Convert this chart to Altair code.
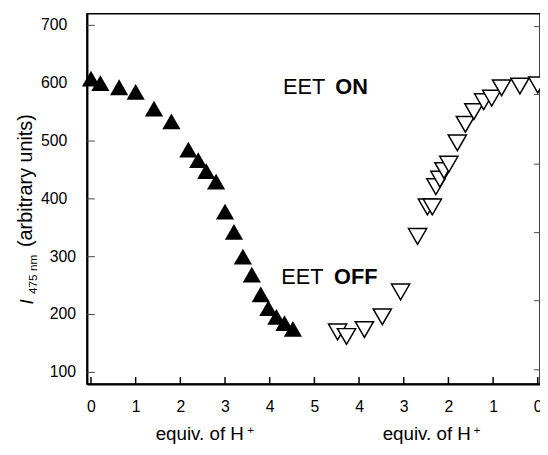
import altair as alt
import pandas as pd

# ---- data ----
# left branch: adding H+ (0 -> ~4.5 equiv), filled up-triangles
left_equiv = [0.0, 0.21, 0.63, 1.0, 1.41, 1.8, 2.18, 2.4, 2.58, 2.8, 3.0, 3.2, 3.4, 3.6, 3.8, 3.97, 4.15, 4.33, 4.52]
left_intensity = [608, 600, 593, 585, 556, 534, 485, 467, 448, 430, 378, 343, 300, 269, 235, 211, 196, 185, 175]

# right branch: back-titration (equiv. of H+ decreasing), open down-triangles
right_equiv = [4.48, 4.28, 3.88, 3.48, 3.07, 2.69, 2.47, 2.36, 2.28, 2.19, 2.10, 1.99, 1.80, 1.62, 1.43, 1.21, 1.03, 0.81, 0.40, 0.0]
right_intensity = [170, 162, 174, 196, 239, 335, 386, 386, 421, 434, 449, 460, 497, 529, 551, 568, 574, 592, 595, 597]

x_tick_values = [0, 1, 2, 3, 4, 5, 6, 7, 8, 9, 10]
y_tick_values = [100, 200, 300, 400, 500, 600, 700]
right_tick_values = [697.8, 580.6, 460.1, 341.6, 223.9, 104.4]

ann_normal = ["EET", "EET"]
ann_normal_x = [4.30, 4.26]
ann_bold = ["ON", "OFF"]
ann_bold_x = [5.47, 5.44]
ann_y = [580.6, 252.4]

FONT = "Liberation Sans"
W, H = 459, 375

xscale = alt.Scale(domain=[-0.09, 10.05], nice=False, zero=False)
yscale = alt.Scale(domain=[80, 720], nice=False, zero=False)

left_df = pd.DataFrame({"equiv": left_equiv, "I": left_intensity})
right_df = pd.DataFrame({"equiv": right_equiv, "I": right_intensity})

x_axis = alt.Axis(
    values=x_tick_values,
    labelExpr="datum.value <= 5 ? '' + datum.value : '' + (10 - datum.value)",
    title=None, ticks=False, grid=False,
    labelFont=FONT, labelFontSize=16, labelColor="black", labelPadding=15,
    domainColor="black", domainWidth=2,
)
y_axis = alt.Axis(
    values=y_tick_values, title=None, ticks=False, grid=False, labels=False,
    domainColor="black", domainWidth=2,
)

left_pts = alt.Chart(left_df).transform_calculate(pos="datum.equiv").mark_point(
    shape="triangle-up", filled=True, color="black", size=340, opacity=1
).encode(
    x=alt.X("pos:Q", scale=xscale, axis=x_axis),
    y=alt.Y("I:Q", scale=yscale, axis=y_axis),
)

right_pts = alt.Chart(right_df).transform_calculate(pos="10 - datum.equiv").mark_point(
    shape="triangle-down", filled=True, fill="white", stroke="black", strokeWidth=1.5,
    size=340, opacity=1
).encode(
    x=alt.X("pos:Q", scale=xscale),
    y=alt.Y("I:Q", scale=yscale),
)

# y tick labels (lower ones sit closer to the axis, as in the reference)
ylab_base = alt.Chart(pd.DataFrame({"v": y_tick_values}))
ylabels_hi = ylab_base.transform_filter("datum.v > 300").mark_text(
    align="right", baseline="middle", font=FONT, fontSize=16, color="black"
).encode(
    y=alt.Y("v:Q", scale=yscale), x=alt.value(-20), text=alt.Text("v:Q", format="d"),
)
ylabels_lo = ylab_base.transform_filter("datum.v <= 300").mark_text(
    align="right", baseline="middle", font=FONT, fontSize=16, color="black"
).encode(
    y=alt.Y("v:Q", scale=yscale), x=alt.value(-11), text=alt.Text("v:Q", format="d"),
)

# inward tick marks
yticks = alt.Chart(pd.DataFrame({"v": y_tick_values})).mark_rule(color="#444", strokeWidth=1).encode(
    y=alt.Y("v:Q", scale=yscale), x=alt.value(0), x2=alt.value(8)
)
rticks = alt.Chart(pd.DataFrame({"v": right_tick_values})).mark_rule(color="#444", strokeWidth=1).encode(
    y=alt.Y("v:Q", scale=yscale), x=alt.value(W), x2=alt.value(W - 6)
)
xticks = alt.Chart(pd.DataFrame({"v": x_tick_values})).mark_rule(color="black", strokeWidth=1.5).encode(
    x=alt.X("v:Q", scale=xscale), y=alt.value(H), y2=alt.value(H - 7)
)

# annotations EET ON / EET OFF
ann_n = alt.Chart(pd.DataFrame({"t": ann_normal, "x": ann_normal_x, "y": ann_y})).mark_text(
    align="left", baseline="alphabetic", font=FONT, fontSize=22, color="black"
).encode(x=alt.X("x:Q", scale=xscale), y=alt.Y("y:Q", scale=yscale), text="t:N")
ann_b = alt.Chart(pd.DataFrame({"t": ann_bold, "x": ann_bold_x, "y": ann_y})).mark_text(
    align="left", baseline="alphabetic", font=FONT, fontSize=22, fontWeight="bold", color="black"
).encode(x=alt.X("x:Q", scale=xscale), y=alt.Y("y:Q", scale=yscale), text="t:N")


def label(text, x, y, size, angle=0, style="normal", align="center", baseline="middle"):
    return alt.Chart(pd.DataFrame({"t": [text]})).mark_text(
        align=align, baseline=baseline, font=FONT, fontSize=size, fontStyle=style,
        angle=angle, color="black"
    ).encode(x=alt.value(x), y=alt.value(y), text="t:N")


titles = [
    label("I", -61, 292, 19, angle=270, style="italic"),
    label("475 nm", -55, 264, 12, angle=270),
    label("(arbitrary units)", -62, 169, 20, angle=270),
    label("equiv. of H", 159, 432, 19, align="right", baseline="alphabetic"),
    label("+", 166, 422, 12),
    label("equiv. of H", 389, 432, 19, align="right", baseline="alphabetic"),
    label("+", 395, 422, 12),
]

chart = alt.layer(
    yticks, rticks, xticks, left_pts, right_pts, ylabels_hi, ylabels_lo, ann_n, ann_b, *titles
).properties(
    width=W, height=H,
    autosize=alt.AutoSizeParams(type="none"),
    padding={"left": 80, "top": 3, "right": 0, "bottom": 60},
).configure_view(
    stroke="black", strokeWidth=1.5
)

chart.save("out.html", embed_options={"renderer": "svg", "actions": False})
